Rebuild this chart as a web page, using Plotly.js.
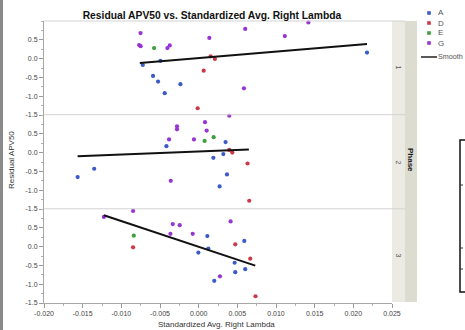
<!DOCTYPE html>
<html>
<head>
<meta charset="utf-8">
<script src="https://cdn.plot.ly/plotly-3.0.1.min.js"></script>
<style>
  html, body { margin: 0; padding: 0; background: #ffffff; }
  #chart { width: 465px; height: 330px; }
</style>
</head>
<body>
<div id="chart"></div>
<script>
// ---------- data ----------
const groups = ['A', 'D', 'E', 'G'];
const groupColors = ['#3b5bc9', '#cc3847', '#3f9f3f', '#9634d4'];
const phases = ['1', '2', '3'];

const phase1X   = [-0.00723, -0.00494, -0.0059, -0.00525, -0.00439, -0.00236, 0.02177,
                   0.00155, 0.0021, 0.00065, -0.00013,
                   -0.00577,
                   -0.00752, -0.0077, -0.0075, -0.00404, -0.00374, 0.00138, 0.00602, 0.00585, 0.01114, 0.01419];
const phase1Y   = [-0.17, -0.06, -0.46, -0.61, -0.92, -0.68, 0.16,
                   0.06, -0.01, -0.32, -1.32,
                   0.28,
                   0.68, 0.36, 0.33, 0.28, 0.35, 0.55, 0.79, -0.79, 0.60, 0.96];
const phase1Grp = ['A','A','A','A','A','A','A',
                   'D','D','D','D',
                   'E',
                   'G','G','G','G','G','G','G','G','G','G'];

const phase2X   = [-0.00417, 0.00348, 0.00319, 0.0019, 0.00366, 0.00271, -0.01565, -0.01351,
                   0.00396, 0.00435, 0.00632, 0.00654,
                   0.00077, 0.00194,
                   0.00396, -0.0028, -0.0028, 0.00082, 0.00103, -0.00383, -0.00061, -0.00361];
const phase2Y   = [0.17, 0.28, -0.04, -0.14, -0.58, -0.90, -0.65, -0.43,
                   0.07, 0.00, -0.29, -1.28,
                   0.31, 0.41,
                   0.98, 0.70, 0.62, 0.81, 0.585, 0.35, 0.35, -0.75];
const phase2Grp = ['A','A','A','A','A','A','A','A',
                   'D','D','D','D',
                   'E','E',
                   'G','G','G','G','G','G','G','G'];

const phase3X   = [0.00112, 0.00125, -0.00004, 0.0059, 0.00465, 0.00473, 0.00602, 0.00202,
                   -0.00848, 0.00473, 0.00667, 0.00735,
                   -0.00839,
                   -0.01226, -0.00848, -0.00335, -0.00245, -0.00365, -0.00077, 0.00413, 0.00275];
const phase3Y   = [0.28, -0.05, -0.16, 0.15, -0.43, -0.68, -0.60, -0.91,
                   -0.02, 0.06, -0.32, -1.32,
                   0.29,
                   0.79, 0.95, 0.60, 0.57, 0.34, 0.34, 0.67, -0.79];
const phase3Grp = ['A','A','A','A','A','A','A','A',
                   'D','D','D','D',
                   'E',
                   'G','G','G','G','G','G','G','G'];

// linear smoother end points per phase
const smooth1X = [-0.00761, 0.02177], smooth1Y = [-0.12, 0.39];
const smooth2X = [-0.01565, 0.00649], smooth2Y = [-0.10, 0.08];
const smooth3X = [-0.01226, 0.00732], smooth3Y = [0.835, -0.505];

const xTickVals = [-0.020, -0.015, -0.010, -0.005, 0.000, 0.005, 0.010, 0.015, 0.020, 0.025];
const xTickText = ['-0.020', '-0.015', '-0.010', '-0.005', '0.000', '0.005', '0.010', '0.015', '0.020', '0.025'];
const yTickVals = [-1.5, -1.0, -0.5, 0.0, 0.5];
const yTickText = ['-1.5', '-1.0', '-0.5', '0.0', '0.5'];

const titleText = 'Residual APV50 vs. Standardized Avg. Right Lambda';
const xTitleText = 'Standardized Avg. Right Lambda';
const yTitleText = 'Residual APV50';
const facetTitle = 'Phase';
const smoothName = 'Smooth';

// ---------- build ----------
const FONT = 'Liberation Sans, Arial, sans-serif';
const phaseData = [
  {x: phase1X, y: phase1Y, g: phase1Grp, sx: smooth1X, sy: smooth1Y, ax: 'y'},
  {x: phase2X, y: phase2Y, g: phase2Grp, sx: smooth2X, sy: smooth2Y, ax: 'y2'},
  {x: phase3X, y: phase3Y, g: phase3Grp, sx: smooth3X, sy: smooth3Y, ax: 'y3'}
];

const traces = [];
phaseData.forEach((p) => {
  groups.forEach((grp, gi) => {
    const xs = [], ys = [];
    p.g.forEach((v, i) => { if (v === grp) { xs.push(p.x[i]); ys.push(p.y[i]); } });
    traces.push({
      type: 'scatter', mode: 'markers', x: xs, y: ys, name: grp,
      xaxis: 'x', yaxis: p.ax, showlegend: false, cliponaxis: false,
      marker: {color: groupColors[gi], size: 4.2, line: {width: 0}}
    });
  });
});
phaseData.forEach((p) => {
  traces.push({
    type: 'scatter', mode: 'lines', x: p.sx, y: p.sy, name: smoothName,
    xaxis: 'x', yaxis: p.ax, showlegend: false,
    line: {color: '#111111', width: 2}
  });
});

// pixel helpers (plot area: x 44..392, y 21..303)
const L = 44, R = 392, T = 21, B = 303;
const px = v => (v - L) / (R - L);
const py = v => (B - v) / (B - T);

const yAxisBase = {
  range: [-1.5, 1.0], tickvals: yTickVals, ticktext: yTickText,
  ticks: 'outside', ticklen: 4, tickwidth: 1, tickcolor: '#9a9a9a',
  showline: true, linecolor: '#a8a8a8', linewidth: 1,
  showgrid: false, zeroline: false, anchor: 'x',
  tickfont: {family: FONT, size: 7, color: '#444'},
  minor: {dtick: 0.25, tick0: 0, ticks: 'outside', ticklen: 2, tickcolor: '#b0b0b0', showgrid: false},
  fixedrange: true
};

const shapes = [];
// left dark border of screenshot
shapes.push({type: 'rect', xref: 'paper', yref: 'paper', x0: px(0), x1: px(3), y0: py(330), y1: py(0),
  fillcolor: '#8a8a8a', line: {width: 0}, layer: 'below'});
// facet strips
shapes.push({type: 'rect', xref: 'paper', yref: 'paper', x0: px(392), x1: px(405), y0: py(302), y1: py(21),
  fillcolor: '#ebebe4', line: {width: 0}});
shapes.push({type: 'rect', xref: 'paper', yref: 'paper', x0: px(405), x1: px(417), y0: py(302), y1: py(21),
  fillcolor: '#dcdcd1', line: {width: 0}});
// panel separators & top frame
[21, 114.7, 208.8].forEach(yy => {
  shapes.push({type: 'line', xref: 'paper', yref: 'paper', x0: px(44), x1: px(405), y0: py(yy), y1: py(yy),
    line: {color: '#d2d2d2', width: 1}});
});
// legend swatches
const legendY = [13, 23, 33, 43];
groups.forEach((g, i) => {
  shapes.push({type: 'rect', xref: 'paper', yref: 'paper', xsizemode: 'pixel', ysizemode: 'pixel',
    xanchor: px(429), yanchor: py(legendY[i]), x0: -1.8, x1: 1.8, y0: -1.8, y1: 1.8,
    fillcolor: groupColors[i], line: {width: 0}});
});
shapes.push({type: 'line', xref: 'paper', yref: 'paper', x0: px(421), x1: px(437), y0: py(57), y1: py(57),
  line: {color: '#222', width: 1.5}});
// neighbouring (cropped) chart frame at far right
shapes.push({type: 'rect', xref: 'paper', yref: 'paper', x0: px(460), x1: px(480), y0: py(292), y1: py(140),
  fillcolor: 'rgba(0,0,0,0)', line: {color: '#111', width: 1.5}});
[185, 248, 269].forEach(yy => {
  shapes.push({type: 'line', xref: 'paper', yref: 'paper', x0: px(460), x1: px(463), y0: py(yy), y1: py(yy),
    line: {color: '#333', width: 1}});
});

const annotations = [];
// strip labels
const stripY = [67, 162, 255];
phases.forEach((ph, i) => {
  annotations.push({text: ph, xref: 'paper', yref: 'paper', x: px(398.5), y: py(stripY[i]),
    showarrow: false, textangle: 90, xanchor: 'center', yanchor: 'middle',
    font: {family: FONT, size: 7, color: '#555'}});
});
annotations.push({text: '<b>' + facetTitle + '</b>', xref: 'paper', yref: 'paper', x: px(411), y: py(160),
  showarrow: false, textangle: 90, xanchor: 'center', yanchor: 'middle',
  font: {family: FONT, size: 8, color: '#222'}});
// legend text
groups.forEach((g, i) => {
  annotations.push({text: g, xref: 'paper', yref: 'paper', x: px(436), y: py(legendY[i]),
    showarrow: false, xanchor: 'left', yanchor: 'middle',
    font: {family: FONT, size: 8, color: '#555'}});
});
annotations.push({text: smoothName, xref: 'paper', yref: 'paper', x: px(436), y: py(57),
  showarrow: false, xanchor: 'left', yanchor: 'middle',
  font: {family: FONT, size: 7.2, color: '#555'}});
// axis titles
annotations.push({text: xTitleText, xref: 'paper', yref: 'paper', x: px(216), y: py(324),
  showarrow: false, xanchor: 'center', yanchor: 'middle',
  font: {family: FONT, size: 8, color: '#333'}});
annotations.push({text: yTitleText, xref: 'paper', yref: 'paper', x: px(11), y: py(160),
  showarrow: false, textangle: -90, xanchor: 'center', yanchor: 'middle',
  font: {family: FONT, size: 8, color: '#333'}});

const layout = {
  width: 465, height: 330,
  margin: {l: L, r: 465 - R, t: T, b: 330 - B, pad: 0},
  paper_bgcolor: '#ffffff', plot_bgcolor: '#ffffff',
  showlegend: false,
  title: {text: '<b>' + titleText + '</b>', x: 212 / 465, xanchor: 'center', y: 1 - 15 / 330, yanchor: 'middle',
    font: {family: FONT, size: 10.3, color: '#111'}},
  xaxis: {
    range: [-0.020, 0.025], tickvals: xTickVals, ticktext: xTickText, anchor: 'y3',
    ticks: 'outside', ticklen: 4, tickwidth: 1, tickcolor: '#9a9a9a',
    showline: true, linecolor: '#a8a8a8', linewidth: 1,
    showgrid: false, zeroline: false,
    tickfont: {family: FONT, size: 7, color: '#444'},
    minor: {dtick: 0.0025, tick0: 0, ticks: 'outside', ticklen: 2, tickcolor: '#b0b0b0', showgrid: false},
    fixedrange: true
  },
  yaxis:  Object.assign({}, yAxisBase, {domain: [2 / 3, 1]}),
  yaxis2: Object.assign({}, yAxisBase, {domain: [1 / 3, 2 / 3]}),
  yaxis3: Object.assign({}, yAxisBase, {domain: [0, 1 / 3]}),
  shapes: shapes,
  annotations: annotations
};

Plotly.newPlot('chart', traces, layout, {displayModeBar: false, staticPlot: true});
</script>
</body>
</html>
